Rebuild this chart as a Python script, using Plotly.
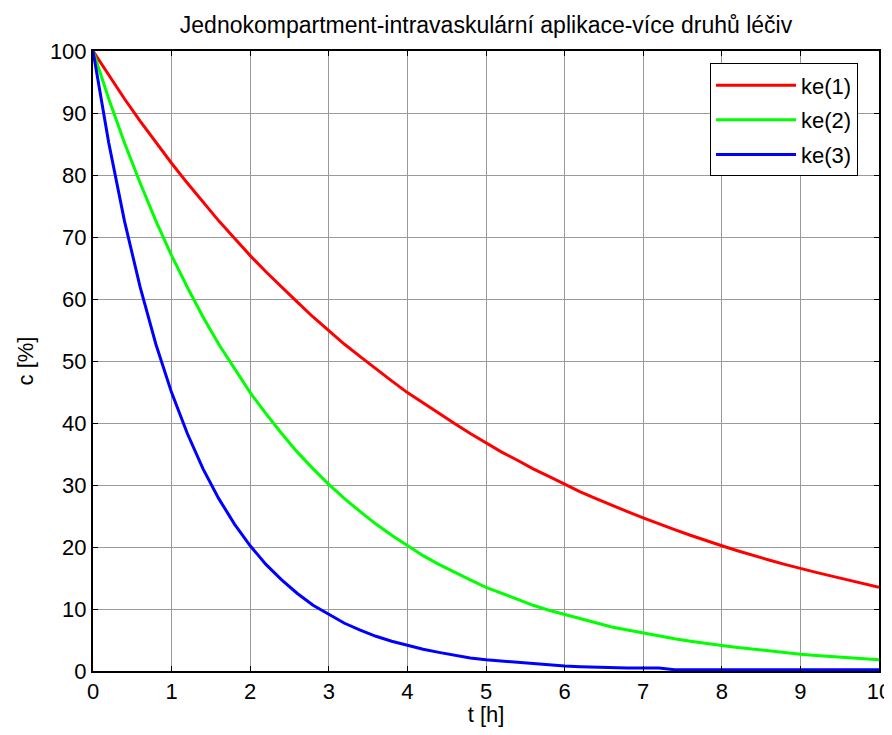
import plotly.graph_objects as go

t = [round(0.2 * i, 1) for i in range(51)]

ke1 = [100, 96.1, 92.3, 88.7, 85.2, 81.9, 78.7, 75.6, 72.6, 69.8,
       67.0, 64.4, 61.9, 59.5, 57.1, 54.9, 52.7, 50.7, 48.7, 46.8,
       44.9, 43.2, 41.5, 39.9, 38.3, 36.8, 35.3, 34.0, 32.6, 31.4,
       30.1, 28.9, 27.8, 26.7, 25.7, 24.7, 23.7, 22.8, 21.9, 21.0,
       20.2, 19.4, 18.6, 17.9, 17.2, 16.5, 15.9, 15.3, 14.7, 14.1, 13.5]

ke2 = [100, 92.3, 85.2, 78.7, 72.6, 67.0, 61.9, 57.1, 52.7, 48.7,
       44.9, 41.5, 38.3, 35.3, 32.6, 30.1, 27.8, 25.7, 23.7, 21.9,
       20.2, 18.6, 17.2, 15.9, 14.7, 13.5, 12.5, 11.5, 10.6, 9.8,
       9.1, 8.4, 7.7, 7.1, 6.6, 6.1, 5.6, 5.2, 4.8, 4.4,
       4.1, 3.8, 3.5, 3.2, 3.0, 2.7, 2.5, 2.3, 2.1, 2.0, 1.8]

ke3 = [100, 85.2, 72.6, 61.9, 52.7, 44.9, 38.3, 32.6, 27.8, 23.7,
       20.2, 17.2, 14.7, 12.5, 10.6, 9.1, 7.7, 6.6, 5.6, 4.8,
       4.1, 3.5, 3.0, 2.5, 2.1, 1.8, 1.6, 1.3, 1.1, 1.0,
       0.8, 0.7, 0.6, 0.5, 0.5, 0.5, 0.5, 0.2, 0.2, 0.2,
       0.2, 0.2, 0.2, 0.2, 0.2, 0.2, 0.2, 0.2, 0.2, 0.2, 0.2]

names = ["ke(1)", "ke(2)", "ke(3)"]
colors = ["#ff0000", "#00ff00", "#0000ff"]
series = [ke1, ke2, ke3]

x_ticks = list(range(0, 11))
y_ticks = list(range(0, 101, 10))

FONT = "Liberation Sans, Arial"

fig = go.Figure()
for name, col, ys in zip(names, colors, series):
    fig.add_trace(go.Scatter(x=t, y=ys, mode="lines", name=name, legendgroup=name,
                             line=dict(color=col, width=3)))

axis_common = dict(
    showline=True, linecolor="black", linewidth=2, mirror="ticks",
    ticks="inside", ticklen=5, tickcolor="black", tickwidth=1,
    showgrid=True, gridcolor="#9a9a9a", gridwidth=1,
    zeroline=False, ticklabeloverflow="allow",
    tickfont=dict(family=FONT, size=22, color="black"),
)

fig.update_xaxes(range=[0, 10], tickvals=x_ticks, **axis_common, automargin=False,
                 title=dict(text="t [h]", standoff=2,
                            font=dict(family=FONT, size=22, color="black")))
fig.update_yaxes(range=[0, 100], tickvals=y_ticks, **axis_common, automargin=False,
                 title=dict(text="c [%]", standoff=10,
                            font=dict(family=FONT, size=22, color="black")))

# the page body has an 8px default margin, so the figure is sized to fit the window
fig.update_layout(
    width=884, height=719,
    margin=dict(l=85, r=13, t=43, b=56),
    paper_bgcolor="white", plot_bgcolor="white",
    title=dict(text="Jednokompartment-intravaskulární aplikace-více druhů léčiv",
               x=0.5, xref="paper", xanchor="center", y=0.976, yanchor="middle",
               font=dict(family=FONT, size=23, color="black")),
    showlegend=True,
    legend=dict(x=0.785, y=0.98, xanchor="left", yanchor="top",
                bgcolor="white", bordercolor="black", borderwidth=1,
                font=dict(family=FONT, size=22, color="black"),
                itemwidth=80, tracegroupgap=3),
)

fig.write_html("out.html")
